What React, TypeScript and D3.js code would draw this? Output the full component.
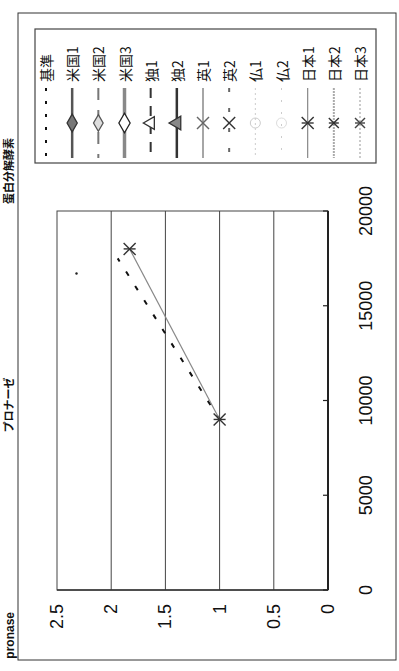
import React from 'react';
import * as d3 from 'd3';

const seriesNames = ['基準', '米国1', '米国2', '米国3', '独1', '独2', '英1', '英2', '仏1', '仏2', '日本1', '日本2', '日本3'];
const valueTicks = [0, 0.5, 1, 1.5, 2, 2.5];
const valueTickLabels = ['0', '0.5', '1', '1.5', '2', '2.5'];
const xTicks = [0, 5000, 10000, 15000, 20000];
const xTickLabels = ['0', '5000', '10000', '15000', '20000'];

const baseX = [9000, 17500];
const baseY = [1.0, 1.94];
const jpn1X = [9000, 18000];
const jpn1Y = [1.0, 1.83];
const strayX = [16700];
const strayY = [2.32];

const titleMain = 'プロナーゼ';
const titleSub = '蛋白分解酵素';
const cornerLabel = 'pronase';

type St = { stroke: string; w: number; dash?: string; marker: string; fill?: string; ms?: string; size?: number };
const legendStyles: St[] = [
  { stroke: '#111', w: 2, dash: '3,10', marker: 'none' },
  { stroke: '#555', w: 2.5, marker: 'diamond', fill: '#777', ms: '#333', size: 90 },
  { stroke: '#777', w: 2, dash: '12,10', marker: 'diamond', fill: '#ddd', ms: '#555', size: 80 },
  { stroke: '#888', w: 3.5, marker: 'diamond', fill: '#fff', ms: '#222', size: 110 },
  { stroke: '#333', w: 2, dash: '10,8', marker: 'triangle', fill: '#fff', ms: '#333', size: 70 },
  { stroke: '#333', w: 2.5, marker: 'triangle', fill: '#888', ms: '#333', size: 80 },
  { stroke: '#888', w: 1.5, marker: 'x', ms: '#666', size: 6 },
  { stroke: '#666', w: 2, dash: '4,16', marker: 'x', ms: '#333', size: 6 },
  { stroke: '#ccc', w: 1, dash: '2,3', marker: 'circle', fill: 'none', ms: '#ccc', size: 5 },
  { stroke: '#ccc', w: 1, dash: '2,10', marker: 'circle', fill: 'none', ms: '#ddd', size: 5 },
  { stroke: '#888', w: 1.2, marker: 'asterisk', ms: '#333', size: 6 },
  { stroke: '#aaa', w: 2, dash: '2,1', marker: 'asterisk', ms: '#333', size: 5 },
  { stroke: '#bbb', w: 1.5, dash: '2,2', marker: 'asterisk', ms: '#444', size: 5 },
];

const NUM_FONT = '"Liberation Sans", Arial, sans-serif';
const CJK_FONT = '"Noto Sans CJK JP", sans-serif';

function Marker({ x, y, st }: { x: number; y: number; st: St }) {
  const s = st.size || 6;
  if (st.marker === 'diamond') {
    return <path transform={`translate(${x},${y})`} d={d3.symbol(d3.symbolDiamond, s)()!} fill={st.fill} stroke={st.ms} strokeWidth={1.3} />;
  }
  if (st.marker === 'triangle') {
    return <path transform={`translate(${x},${y}) rotate(-90)`} d={d3.symbol(d3.symbolTriangle, s)()!} fill={st.fill} stroke={st.ms} strokeWidth={1.3} />;
  }
  if (st.marker === 'circle') {
    return <circle cx={x} cy={y} r={s} fill="none" stroke={st.ms} strokeWidth={1} />;
  }
  if (st.marker === 'x' || st.marker === 'asterisk') {
    return (
      <g stroke={st.ms} strokeWidth={1.4}>
        <line x1={x - s} y1={y - s} x2={x + s} y2={y + s} />
        <line x1={x - s} y1={y + s} x2={x + s} y2={y - s} />
        {st.marker === 'asterisk' && <line x1={x - s} y1={y} x2={x + s} y2={y} />}
      </g>
    );
  }
  return null;
}

export default function App() {
  const pl = 57, pr = 328, pt = 211, pb = 590;
  const val = d3.scaleLinear().domain([0, 2.5]).range([pr, pl]);
  const xs = d3.scaleLinear().domain([0, 20000]).range([pb, pt]);
  const lineGen = d3.line<[number, number]>().x(d => val(d[1])).y(d => xs(d[0]));
  const basePts = baseX.map((x, i) => [x, baseY[i]] as [number, number]);
  const jpnPts = jpn1X.map((x, i) => [x, jpn1Y[i]] as [number, number]);
  const legX = d3.scalePoint<string>().domain(seriesNames).range([46, 360]);
  const jpnStyle = legendStyles[10];

  return (
    <svg width={399} height={671} style={{ position: 'absolute', left: 0, top: 0, background: '#fff' }}>
      <rect x={0} y={0} width={399} height={671} fill="#fff" />
      {/* outer border */}
      <rect x={18} y={13} width={378} height={647} fill="none" stroke="#333" strokeWidth={1} />
      {/* legend box */}
      <rect x={35} y={29} width={341} height={134} fill="none" stroke="#444" strokeWidth={1.2} />
      {seriesNames.map((n, i) => {
        const x = legX(n)!;
        const st = legendStyles[i];
        return (
          <g key={n}>
            <text transform={`translate(${x},82) rotate(-90)`} fontFamily={CJK_FONT} fontSize={14} dominantBaseline="central" fill="#111">{n}</text>
            <line x1={x} y1={88} x2={x} y2={158} stroke={st.stroke} strokeWidth={st.w} strokeDasharray={st.dash} />
            <Marker x={x} y={123} st={st} />
          </g>
        );
      })}

      {/* plot area */}
      <rect x={pl} y={pt} width={pr - pl} height={pb - pt} fill="none" stroke="#444" strokeWidth={1} />
      {valueTicks.filter(v => v > 0 && v < 2.5).map(v => (
        <line key={v} x1={val(v)} y1={pt} x2={val(v)} y2={pb} stroke="#444" strokeWidth={1} />
      ))}
      <line x1={pr} y1={pt} x2={pr} y2={pb} stroke="#222" strokeWidth={2} />
      <line x1={pl} y1={pb} x2={pr} y2={pb} stroke="#333" strokeWidth={1.6} />
      {xTicks.map(t => (
        <line key={t} x1={pr - 5} y1={xs(t)} x2={pr} y2={xs(t)} stroke="#222" strokeWidth={1.2} />
      ))}

      {/* series */}
      <path d={lineGen(basePts)!} fill="none" stroke="#111" strokeWidth={2} strokeDasharray="5,12" />
      <path d={lineGen(jpnPts)!} fill="none" stroke={jpnStyle.stroke} strokeWidth={1.2} />
      {jpnPts.map((p, i) => (
        <Marker key={i} x={val(p[1])} y={xs(p[0])} st={jpnStyle} />
      ))}
      {strayX.map((x, i) => (
        <circle key={i} cx={val(strayY[i])} cy={xs(x)} r={1.2} fill="#222" />
      ))}

      {/* value axis labels */}
      {valueTicks.map((v, i) => (
        <text key={v} transform={`translate(${val(v)},604) rotate(-90)`} textAnchor="end" dominantBaseline="central" fontFamily={NUM_FONT} fontSize={18} fill="#111">{valueTickLabels[i]}</text>
      ))}
      {/* x axis labels */}
      {xTicks.map((t, i) => (
        <text key={t} transform={`translate(366,${xs(t)}) rotate(-90)`} textAnchor="middle" dominantBaseline="central" fontFamily={NUM_FONT} fontSize={18} fill="#111">{xTickLabels[i]}</text>
      ))}

      {/* titles */}
      <text transform={`translate(8,405) rotate(-90)`} textAnchor="middle" dominantBaseline="central" fontFamily={CJK_FONT} fontWeight="bold" fontSize={11} fill="#111">{titleMain}</text>
      <text transform={`translate(8,171) rotate(-90)`} textAnchor="middle" dominantBaseline="central" fontFamily={CJK_FONT} fontWeight="bold" fontSize={11} fill="#111">{titleSub}</text>
      <text transform={`translate(10,612) rotate(-90)`} textAnchor="end" dominantBaseline="central" fontFamily={NUM_FONT} fontWeight="bold" fontSize={12} fill="#111">{cornerLabel}</text>
    </svg>
  );
}
